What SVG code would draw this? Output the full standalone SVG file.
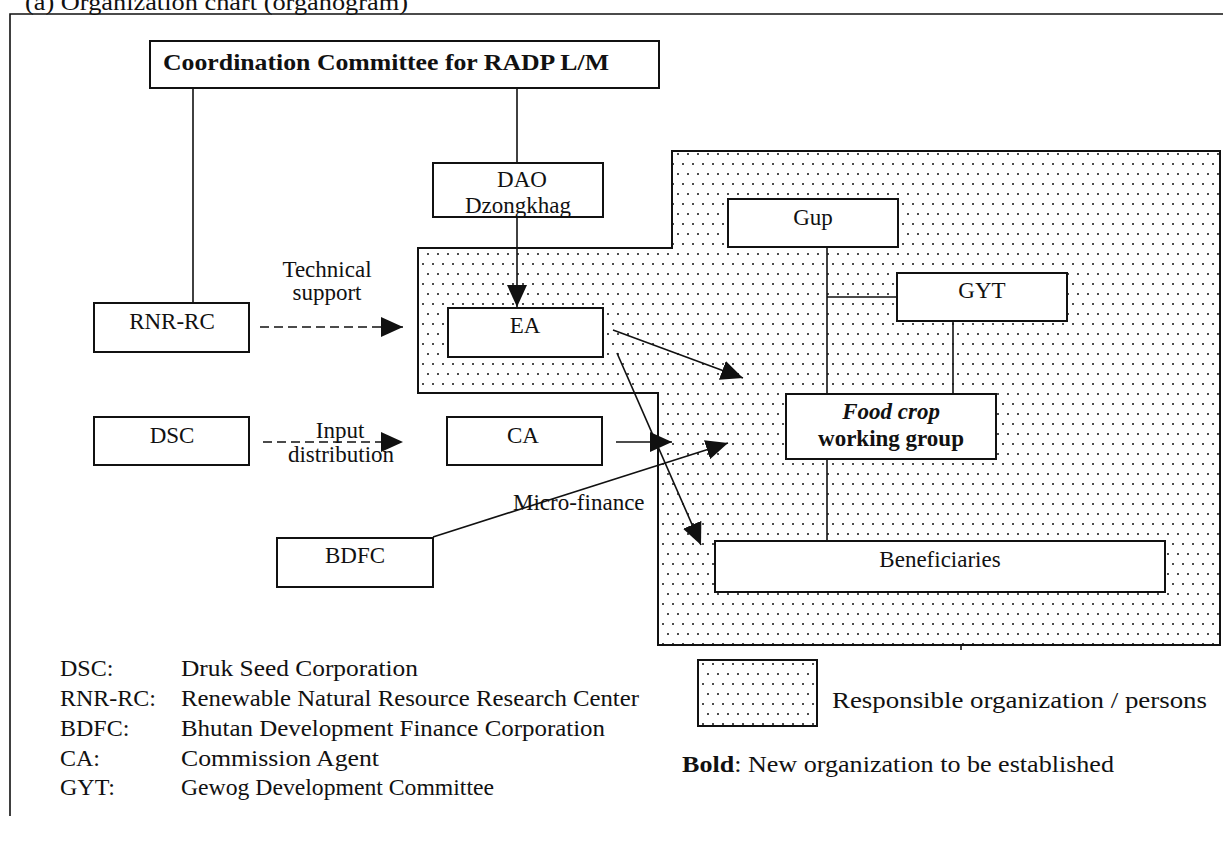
<svg xmlns="http://www.w3.org/2000/svg" width="1223" height="841" viewBox="0 0 1223 841">
<style>
text{font-family:"Liberation Serif","Times New Roman",serif;font-size:23px;fill:#111}
.c{text-anchor:middle}
.b{font-weight:bold}
.lg{font-size:24px}
.box{fill:#fff;stroke:#111;stroke-width:2}
.ln{stroke:#111;stroke-width:1.6;fill:none}
.ar{stroke:#111;stroke-width:1.6;fill:none;marker-end:url(#ah)}
.da{stroke:#111;stroke-width:1.6;fill:none;stroke-dasharray:9 5;marker-end:url(#ah)}
.zone{fill:url(#dots);stroke:#111;stroke-width:2}
</style>
<defs>
<pattern id="dots" patternUnits="userSpaceOnUse" width="20" height="20">
<rect width="20" height="20" fill="#fff"/>
<circle cx="3" cy="4" r="1" fill="#111"/>
<circle cx="13" cy="4" r="1" fill="#111"/>
<circle cx="8" cy="14" r="1" fill="#111"/>
<circle cx="18" cy="14" r="1" fill="#111"/>
</pattern>
<marker id="ah" markerUnits="userSpaceOnUse" markerWidth="23" markerHeight="20" refX="22" refY="10" orient="auto">
<path d="M0,0 L22,10 L0,20 Z" fill="#111"/>
</marker>
<clipPath id="daoclip"><rect x="433" y="163" width="170" height="54"/></clipPath>
</defs>
<rect width="1223" height="841" fill="#fff"/>
<text x="25" y="10" textLength="383" lengthAdjust="spacingAndGlyphs">(a) Organization chart (organogram)</text>
<path class="ln" d="M10,816 V14 H1223"/>

<g id="zone">
<path class="zone" d="M418,248 H672 V151 H1220 V645 H658 V393 H418 Z"/>
<path class="ln" d="M961,645 v5"/>
</g>

<g id="connectors">
<path class="ln" d="M193,88 V303"/>
<path class="ln" d="M517,88 V163"/>
<path class="ar" d="M517,217 V307"/>
<path class="da" d="M260,327 H403"/>
<path class="da" d="M263,442 H403"/>
<path class="ar" d="M613,330 L743,378"/>
<path class="ar" d="M617,353 L701,545"/>
<path class="ar" d="M616,442 H672"/>
<path class="ar" d="M433,537 L728,443"/>
<path class="ln" d="M827,247 V394"/>
<path class="ln" d="M827,297 H897"/>
<path class="ln" d="M953,321 V394"/>
<path class="ln" d="M827,459 V541"/>
<text class="c" x="327" y="277">Technical</text>
<text class="c" x="327" y="300">support</text>
<text class="c" x="340" y="438">Input</text>
<text class="c" x="341" y="462">distribution</text>
<text x="513" y="510">Micro-finance</text>
</g>

<g id="committee">
<rect class="box" x="150" y="41" width="509" height="47"/>
<text class="b" x="163" y="70" textLength="446" lengthAdjust="spacingAndGlyphs">Coordination Committee for RADP L/M</text>
</g>
<g id="dao">
<rect class="box" x="433" y="163" width="170" height="54"/>
<text class="c" x="522" y="187">DAO</text>
<text class="c" x="518" y="213" clip-path="url(#daoclip)">Dzongkhag</text>
<rect x="433" y="163" width="170" height="54" fill="none" stroke="#111" stroke-width="2"/>
</g>
<g id="rnr-rc">
<rect class="box" x="94" y="303" width="155" height="49"/>
<text class="c" x="172" y="329">RNR-RC</text>
</g>
<g id="dsc">
<rect class="box" x="94" y="417" width="155" height="48"/>
<text class="c" x="172" y="443">DSC</text>
</g>
<g id="ea">
<rect class="box" x="448" y="308" width="155" height="49"/>
<text class="c" x="525" y="333">EA</text>
</g>
<g id="ca">
<rect class="box" x="447" y="417" width="155" height="48"/>
<text class="c" x="523" y="443">CA</text>
</g>
<g id="bdfc">
<rect class="box" x="277" y="538" width="156" height="49"/>
<text class="c" x="355" y="563">BDFC</text>
</g>
<g id="gup">
<rect class="box" x="728" y="199" width="170" height="48"/>
<text class="c" x="813" y="225">Gup</text>
</g>
<g id="gyt">
<rect class="box" x="897" y="273" width="170" height="48"/>
<text class="c" x="982" y="298">GYT</text>
</g>
<g id="foodcrop">
<rect class="box" x="786" y="394" width="210" height="65"/>
<text class="c b" x="891" y="419" font-style="italic">Food crop</text>
<text class="c b" x="891" y="446">working group</text>
</g>
<g id="beneficiaries">
<rect class="box" x="715" y="541" width="450" height="51"/>
<text class="c" x="940" y="567">Beneficiaries</text>
</g>

<g id="legend">
<text class="lg" x="60" y="676">DSC:</text><text class="lg" x="181" y="676" textLength="237" lengthAdjust="spacingAndGlyphs">Druk Seed Corporation</text>
<text class="lg" x="60" y="706">RNR-RC:</text><text class="lg" x="181" y="706" textLength="458" lengthAdjust="spacingAndGlyphs">Renewable Natural Resource Research Center</text>
<text class="lg" x="60" y="736">BDFC:</text><text class="lg" x="181" y="736" textLength="424" lengthAdjust="spacingAndGlyphs">Bhutan Development Finance Corporation</text>
<text class="lg" x="60" y="766">CA:</text><text class="lg" x="181" y="766" textLength="198" lengthAdjust="spacingAndGlyphs">Commission Agent</text>
<text class="lg" x="60" y="795">GYT:</text><text class="lg" x="181" y="795" textLength="313" lengthAdjust="spacingAndGlyphs">Gewog Development Committee</text>
<rect class="zone" x="698" y="660" width="119" height="66"/>
<text class="lg" x="832" y="708" textLength="375" lengthAdjust="spacingAndGlyphs">Responsible organization / persons</text>
<text class="lg" x="682" y="772" textLength="432" lengthAdjust="spacingAndGlyphs"><tspan class="b">Bold</tspan>: New organization to be established</text>
</g>
</svg>
